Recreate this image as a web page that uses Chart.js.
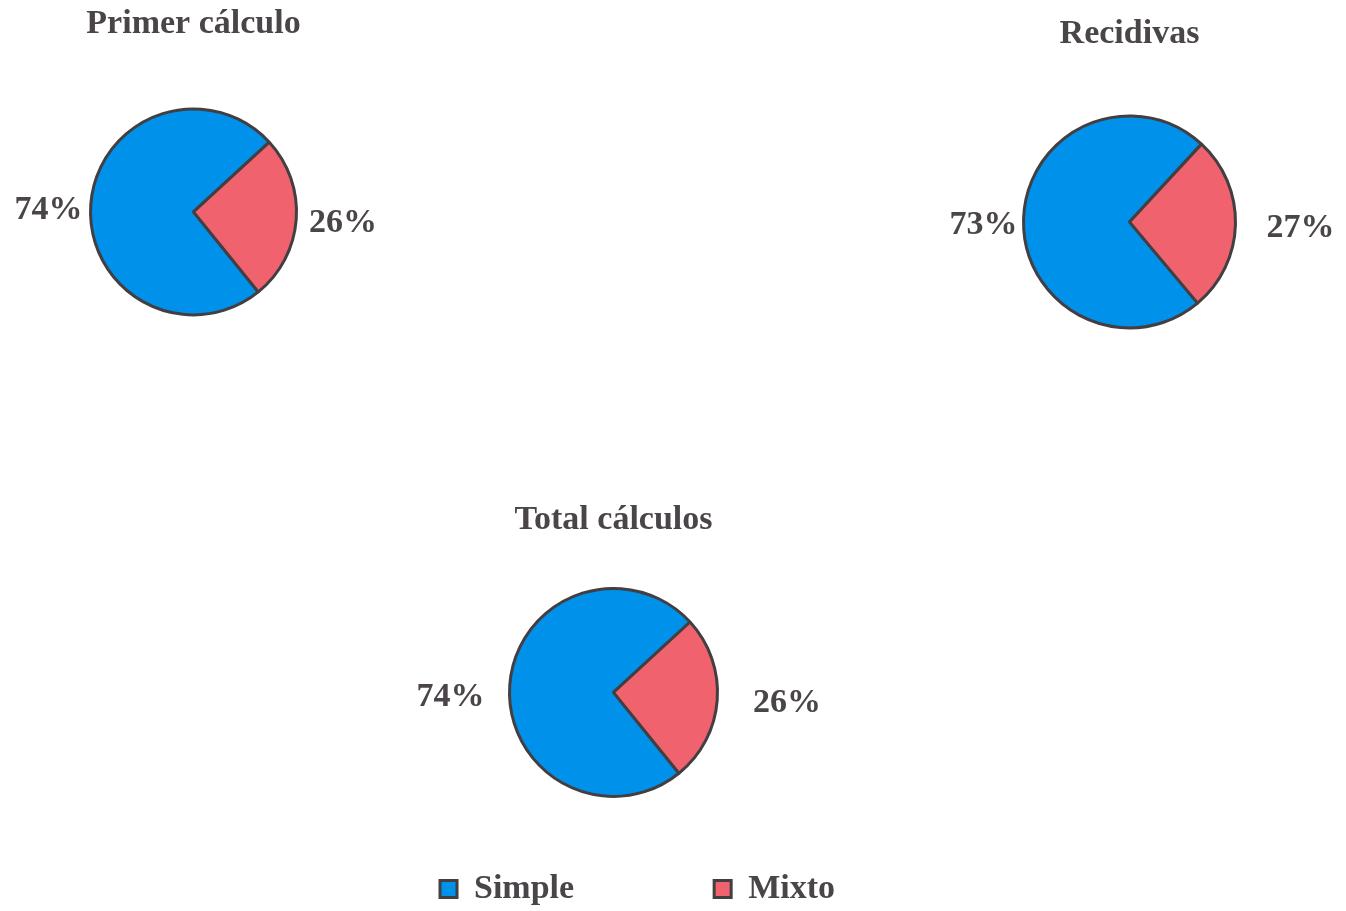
<!DOCTYPE html>
<html lang="es">
<head>
<meta charset="utf-8">
<title>Cálculos: simple y mixto</title>
<script src="https://cdn.jsdelivr.net/npm/chart.js@4.4.1/dist/chart.umd.min.js"></script>
<style>
  html, body { margin: 0; padding: 0; background: #ffffff; overflow: hidden; }
  body { position: relative; width: 1346px; height: 911px; }
  .box { position: absolute; }
  #box1 { left: 4px; top: 0px; }
  #box2 { left: 915px; top: 0px; }
  #box3 { left: 252px; top: 488px; }
</style>
</head>
<body>
<div class="box" id="box1"><canvas id="primerChart" width="379" height="361"></canvas></div>
<div class="box" id="box2"><canvas id="recidivasChart" width="429" height="371"></canvas></div>
<div class="box" id="box3"><canvas id="totalChart" width="723" height="428"></canvas></div>

<script>
const labels = ["Simple", "Mixto"];
const titles = ["Primer cálculo", "Recidivas", "Total cálculos"];

const primerCalculo = [74, 26];
const recidivas = [73, 27];
const totalCalculos = [74, 26];

const colors = ["#0091ea", "#f0636e"];
const textColor = "#4a4549";
const edgeColor = "#433e41";
const fontFamily = "'Liberation Serif', 'Times New Roman', serif";

// percent labels outside each slice
const sliceLabels = {
  id: "sliceLabels",
  afterDatasetsDraw(chart, args, opts) {
    const ctx = chart.ctx;
    const meta = chart.getDatasetMeta(0);
    const values = chart.data.datasets[0].data;
    ctx.save();
    ctx.font = "bold 34px " + fontFamily;
    ctx.fillStyle = textColor;
    ctx.textAlign = "center";
    ctx.textBaseline = "middle";
    meta.data.forEach((arc, i) => {
      const { x, y, startAngle, endAngle, outerRadius } = arc.getProps(
        ["x", "y", "startAngle", "endAngle", "outerRadius"],
        true
      );
      const mid = (startAngle + endAngle) / 2;
      const d = outerRadius + opts.gap[i];
      ctx.fillText(
        values[i] + "%",
        x + Math.cos(mid) * d,
        y + Math.sin(mid) * d + opts.shift[i]
      );
    });
    ctx.restore();
  },
};

function pieOptions(title, rotation, radius, titlePad, gap, shift, legend) {
  return {
    responsive: false,
    animation: false,
    events: [],
    rotation: rotation,
    radius: radius,
    plugins: {
      title: {
        display: true,
        text: title,
        color: textColor,
        font: { family: fontFamily, size: 34, weight: "bold" },
        padding: titlePad,
      },
      legend: legend,
      tooltip: { enabled: false },
      sliceLabels: { gap: gap, shift: shift },
    },
  };
}

function pieData(values) {
  return {
    labels: labels,
    datasets: [
      {
        data: values,
        backgroundColor: colors,
        borderColor: edgeColor,
        borderWidth: 3,
        clip: false,
      },
    ],
  };
}

document.addEventListener("DOMContentLoaded", () => {
  new Chart(document.querySelector("#primerChart"), {
    type: "pie",
    data: pieData(primerCalculo),
    options: pieOptions(
      titles[0], 141, 103, { top: 4, bottom: 18 },
      [42.5, 47], [9, 0], { display: false }
    ),
    plugins: [sliceLabels],
  });

  new Chart(document.querySelector("#recidivasChart"), {
    type: "pie",
    data: pieData(recidivas),
    options: pieOptions(
      titles[1], 140, 106, { top: 14, bottom: 18 },
      [40, 65], [6.5, 2], { display: false }
    ),
    plugins: [sliceLabels],
  });

  new Chart(document.querySelector("#totalChart"), {
    type: "pie",
    data: pieData(totalCalculos),
    options: pieOptions(
      titles[2], 141, 104, { top: 12, bottom: 112 },
      [59.5, 70], [16.5, -1.5],
      {
        display: true,
        position: "bottom",
        align: "end",
        labels: {
          color: textColor,
          font: { family: fontFamily, size: 34, weight: "bold" },
          boxWidth: 17,
          boxHeight: 17,
          padding: 140,
        },
      }
    ),
    plugins: [sliceLabels],
  });
});
</script>
</body>
</html>
